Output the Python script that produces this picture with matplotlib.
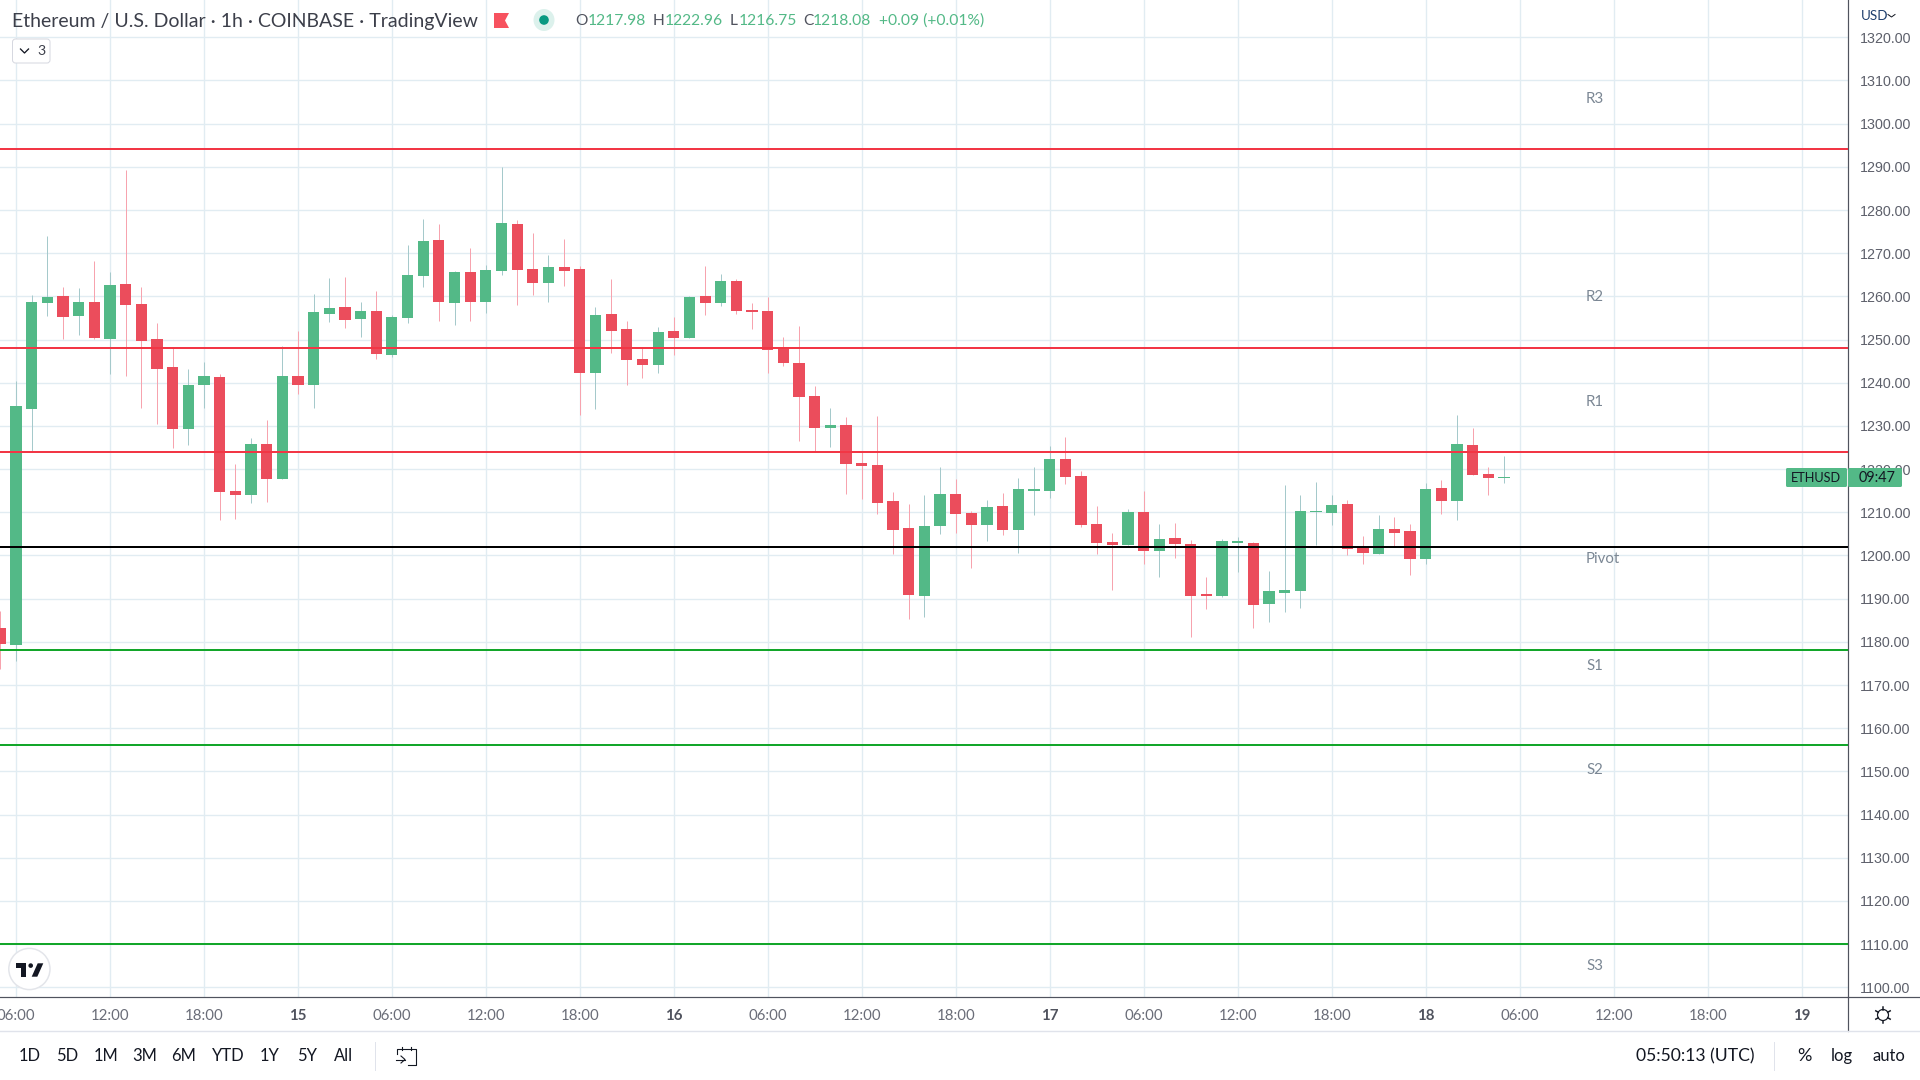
import numpy as np
import matplotlib
matplotlib.use("Agg")
import matplotlib.pyplot as plt
from matplotlib.patches import Circle, Ellipse, FancyBboxPatch, Polygon
from matplotlib.transforms import ScaledTranslation

# hour offset from 14th 06:00 (first candle is -1)
first_hour = -1
highs = [1187.1,1240.4,1260.3,1274.0,1262.1,1261.9,1268.2,1265.7,1289.3,1262.1,1253.9,1248.0,1243.2,1244.8,1242.1,1221.2,1227.2,1231.4,1248.5,1251.9,
         1260.6,1264.2,1264.5,1258.7,1261.3,1255.7,1271.9,1277.9,1276.7,1265.9,1271.2,1267.3,1290.0,1277.6,1274.7,1269.6,1273.3,1267.0,1257.5,1264.0,
         1254.3,1248.0,1252.9,1255.2,1260.1,1267.0,1265.2,1264.0,1258.5,1259.8,1250.6,1253.1,1239.3,1234.2,1232.1,1224.0,1232.3,1214.7,1211.9,1214.0,
         1220.4,1217.7,1210.3,1212.9,1214.5,1218.0,1220.4,1225.3,1227.5,1219.6,1211.4,1205.2,1210.8,1214.9,1207.3,1207.5,1203.6,1195.0,1203.8,1204.3,
         1203.1,1196.4,1216.3,1214.0,1217.0,1214.0,1212.8,1204.5,1209.4,1208.9,1207.3,1216.7,1217.5,1232.5,1229.5,1220.5,1222.96]
lows = [1173.6,1175.6,1224.3,1255.5,1250.1,1251.1,1250.1,1242.1,1241.6,1234.2,1230.4,1224.9,1225.5,1234.2,1208.2,1208.4,1212.2,1212.4,1217.7,1237.4,
        1234.2,1254.1,1252.7,1250.6,1245.5,1246.0,1253.9,1262.1,1254.3,1253.4,1254.3,1256.2,1264.9,1258.0,1260.3,1258.7,1262.4,1232.5,1233.9,1247.0,
        1239.5,1241.1,1242.2,1246.4,1250.3,1255.7,1257.8,1255.9,1252.4,1242.2,1243.9,1226.5,1224.1,1225.2,1214.2,1213.1,1209.6,1200.4,1185.3,1185.8,
        1205.0,1205.2,1197.1,1203.4,1204.7,1200.6,1209.4,1213.3,1216.5,1206.6,1200.4,1192.0,1202.4,1198.0,1195.0,1199.4,1181.1,1187.6,1190.4,1196.2,
        1183.2,1184.6,1187.0,1187.8,1202.4,1207.0,1200.1,1198.0,1200.3,1202.2,1195.5,1198.0,1209.6,1208.2,1218.6,1214.0,1216.75]
opens = [1183.2,1179.3,1233.9,1258.5,1260.1,1255.5,1258.7,1250.1,1262.9,1258.2,1250.1,1243.6,1229.3,1239.5,1241.3,1214.9,1214.0,1225.8,1217.7,1241.6,
         1239.5,1255.9,1257.5,1254.7,1256.6,1246.4,1255.0,1264.7,1273.1,1258.5,1265.7,1258.7,1265.9,1276.7,1266.3,1263.1,1266.8,1266.3,1242.2,1255.9,
         1252.4,1245.5,1244.1,1251.9,1250.3,1260.1,1258.5,1263.6,1256.8,1256.6,1248.0,1244.5,1237.0,1229.5,1230.2,1221.4,1220.9,1212.6,1206.3,1190.6,
         1206.8,1214.2,1209.8,1207.0,1211.4,1205.9,1214.9,1214.9,1222.4,1218.4,1207.3,1203.1,1202.4,1210.1,1201.1,1204.0,1202.7,1191.1,1190.6,1202.9,
         1202.9,1188.8,1191.3,1191.8,1210.1,1209.8,1211.9,1201.7,1200.3,1206.1,1205.7,1199.2,1215.6,1212.6,1225.6,1218.9,1217.98]
closes = [1179.6,1234.6,1258.7,1259.8,1255.2,1258.7,1250.3,1262.6,1258.0,1249.6,1243.2,1229.3,1239.5,1241.6,1214.7,1214.0,1225.8,1217.7,1241.6,1239.5,
          1256.4,1257.3,1254.5,1256.6,1246.7,1255.2,1264.9,1272.8,1258.7,1265.7,1258.7,1266.1,1277.0,1266.1,1263.1,1266.8,1265.9,1242.2,1255.7,1251.9,
          1245.2,1244.1,1251.7,1250.3,1259.8,1258.5,1263.6,1256.6,1256.4,1247.6,1244.5,1236.7,1229.5,1230.2,1221.2,1220.7,1212.2,1205.9,1190.9,1206.8,
          1214.2,1209.6,1207.0,1211.2,1205.9,1215.4,1215.4,1222.4,1218.1,1207.0,1202.9,1202.4,1210.1,1201.1,1203.8,1202.7,1190.6,1190.6,1203.4,1203.4,
          1188.6,1191.7,1192.0,1210.3,1210.3,1211.7,1201.5,1200.6,1206.1,1205.2,1199.2,1215.4,1212.6,1225.8,1218.6,1217.9,1218.08]

resistance_levels = [1294.1, 1248.0, 1224.0]
pivot_level = 1202.0
support_levels = [1178.0, 1156.0, 1110.0]

level_names = ["R3", "R2", "R1", "Pivot", "S1", "S2", "S3"]
price_ticks = list(range(1100, 1330, 10))
time_hours = list(range(0, 120, 6))
time_labels = ["06:00","12:00","18:00","15","06:00","12:00","18:00","16","06:00","12:00","18:00","17",
               "06:00","12:00","18:00","18","06:00","12:00","18:00","19"]
range_buttons = ["1D", "5D", "1M", "3M", "6M", "YTD", "1Y", "5Y", "All"]

GREEN, RED = "#53b987", "#eb4d5c"
GREEN_W, RED_W = "#a5c9cb", "#f7a3ae"
GRID = "#e1ecf2"
FONT = "Lato"
AXISC = "#50535e"
px = 0.72  # points per pixel at 100 dpi

W, H = 1920, 1080
fig = plt.figure(figsize=(W / 100, H / 100), dpi=100, facecolor="white")
AX_R, AX_B = 1848, 997
ax = fig.add_axes([0, 1 - AX_B / H, AX_R / W, AX_B / H])
ax.set_xlim(-1.016, 116.96)
ax.set_ylim(1097.75, 1328.64)
ax.set_facecolor("white")

# candles
hours = np.arange(len(opens)) + first_hour
o, c, hi, lo = map(np.array, (opens, closes, highs, lows))
up = c >= o
ax.vlines(hours[up], lo[up], hi[up], color=GREEN_W, lw=1 * px, zorder=3)
ax.vlines(hours[~up], lo[~up], hi[~up], color=RED_W, lw=1 * px, zorder=3)
ax.bar(hours[up], (c - o)[up], bottom=o[up], width=0.72, color=GREEN, lw=0, zorder=4)
ax.bar(hours[~up], (c - o)[~up], bottom=o[~up], width=0.72, color=RED, lw=0, zorder=4)

# levels
for v in resistance_levels:
    ax.axhline(v, color="#f23645", lw=2 * px, zorder=5)
ax.axhline(pivot_level, color="black", lw=2 * px, zorder=5)
for v in support_levels:
    ax.axhline(v, color="#13a62a", lw=2 * px, zorder=5)

# axes
ax.set_axisbelow(True)
ax.grid(True, color=GRID, lw=1.4 * px, zorder=0)
ax.yaxis.tick_right()
ax.set_yticks(price_ticks)
ax.set_yticklabels([f"{p:.2f}" for p in price_ticks], fontfamily="Liberation Sans", fontsize=14.3 * px, color="#5d606b", va="center_baseline")
ax.set_xticks(time_hours)
ax.set_xticklabels(time_labels, fontfamily=FONT, fontsize=15 * px, color="#6a6d78")
for t in ax.get_xticklabels():
    if ":" not in t.get_text():
        t.set_fontweight("bold")
        t.set_color("#50535e")
ax.tick_params(axis="both", length=0)
ax.tick_params(axis="y", pad=12 * px)
ax.tick_params(axis="x", pad=11.5 * px)
for s in ("top", "left"):
    ax.spines[s].set_visible(False)
for s in ("right", "bottom"):
    ax.spines[s].set_color(AXISC)
    ax.spines[s].set_linewidth(1.2 * px)

# pixel overlay for interface furniture
ov = fig.add_axes([0, 0, 1, 1], facecolor="none")
ov.set_xlim(0, W)
ov.set_ylim(H, 0)
ov.axis("off")
ov.set_zorder(10)


def T(x, y, s, color="#131722", size=16, ha="left", weight="normal", family=FONT):
    ov.text(x, y, s, color=color, fontsize=size * px, ha=ha, va="center", fontweight=weight, fontfamily=family)


# header
TG = "#53b987"
T(12, 21, "Ethereum / U.S. Dollar · 1h · COINBASE · TradingView", color="#3c3f4a", size=19.5)
ov.add_patch(Polygon([(494, 13), (509, 13), (505, 20.5), (509, 28), (494, 28)], fc="#f7525f", lw=0))
ov.add_patch(Ellipse((544, 20), 21, 22, fc="#dcf1ec", lw=0))
ov.add_patch(Circle((544, 20), 4.8, fc="#089981", lw=0))
for x, s in [(575, "O"), (652.6, "H"), (730, "L"), (803, "C")]:
    T(x, 21, s, color="#50535e", size=15.5)
for x, s in [(587.5, "1217.98"), (664.5, "1222.96"), (739, "1216.75"), (813, "1218.08"), (878.6, "+0.09 (+0.01%)")]:
    T(x, 21, s, color=TG, size=15.6)
ov.add_patch(FancyBboxPatch((12.5, 39), 37.5, 24, boxstyle="round,pad=0,rounding_size=3", fc="white", ec="#d6d8e0", lw=1 * px))
ov.plot([20.5, 24.5, 28.5], [49, 53, 49], color="#131722", lw=1.3 * px)
T(37, 51, "3", color="#3c3f4a", size=14)

# level names
for name, y in zip(level_names, [99, 297, 401.7, 558.7, 666, 770, 966]):
    T(1586, y, name, color="#7b8794", size=15)

# logo
ov.add_patch(Circle((29.4, 969), 20.6, fc="white", ec="#e3e5ea", lw=1.5 * px, zorder=6))
ov.add_patch(Polygon([(16, 963.3), (26, 963.3), (26, 976.7), (21, 976.7), (21, 967.7), (16, 967.7)], fc="#131722", lw=0, zorder=7))
ov.add_patch(Circle((30.7, 965.6), 2.3, fc="#131722", lw=0, zorder=7))
ov.add_patch(Polygon([(37.7, 963.3), (43.3, 963.3), (37.3, 976.7), (31.7, 976.7)], fc="#131722", lw=0, zorder=7))

# price tag
ov.add_patch(FancyBboxPatch((1786, 468), 61, 19, boxstyle="round,pad=0,rounding_size=1.5", fc=GREEN, lw=0, zorder=6))
ov.add_patch(FancyBboxPatch((1848, 468), 54, 19, boxstyle="round,pad=0,rounding_size=1.5", fc=GREEN, lw=0, zorder=6))
ov.text(1816, 478, "ETHUSD", color="#131722", fontsize=12.8 * px, ha="center", va="center", fontfamily=FONT, zorder=7)
ov.text(1877, 478, "09:47", color="#131722", fontsize=14.5 * px, ha="center", va="center", fontfamily=FONT, zorder=7)

# USD
T(1861, 16, "USD", color="#1f3f6d", size=13.5)
ov.plot([1888, 1891.5, 1895], [14.5, 17, 14.5], color="#131722", lw=1 * px)

# frame extras
ov.plot([AX_R, W], [AX_B, AX_B], color=AXISC, lw=1.2 * px)
ov.plot([AX_R, AX_R], [AX_B, 1031], color=AXISC, lw=1.2 * px)
ov.plot([0, W], [1031, 1031], color="#e0e3eb", lw=1.4 * px)
ov.plot([375, 375], [1042, 1070], color="#e0e3eb", lw=1 * px)
ov.plot([1774, 1774], [1042, 1070], color="#e0e3eb", lw=1 * px)

# gear
gx, gy = 1883, 1015
ov.add_patch(Circle((gx, gy), 5.5, fc="white", ec="#131722", lw=1.2 * px))
for a in np.deg2rad(np.arange(0, 360, 60) + 90):
    ov.plot([gx + 5.5 * np.cos(a), gx + 8.3 * np.cos(a)], [gy + 5.5 * np.sin(a), gy + 8.3 * np.sin(a)], color="#131722", lw=1.5 * px)

# toolbar
for x, s in zip([30, 67, 106.5, 145, 184, 228, 270, 307, 344], range_buttons):
    T(x, 1056, s, size=16.5, ha="center")
cal = [(397, 1054), (397, 1048.7), (416, 1048.7), (416, 1064.5), (407.5, 1064.5)]
ov.plot(*zip(*cal), color="#131722", lw=1.1 * px)
for x in (401.7, 410.7):
    ov.plot([x, x], [1046.5, 1050], color="#131722", lw=1.1 * px)
ov.plot([396, 405], [1059.5, 1059.5], color="#131722", lw=1.1 * px)
ov.plot([401, 405, 401], [1056, 1059.5, 1063], color="#131722", lw=1.1 * px)
T(1695.5, 1056, "05:50:13 (UTC)", size=17.5, ha="center")
T(1804, 1056, "%", size=18, ha="center")
T(1842, 1056, "log", size=16.5, ha="center")
T(1889, 1056, "auto", size=16.5, ha="center")

fig.savefig("out.png", dpi=100)
